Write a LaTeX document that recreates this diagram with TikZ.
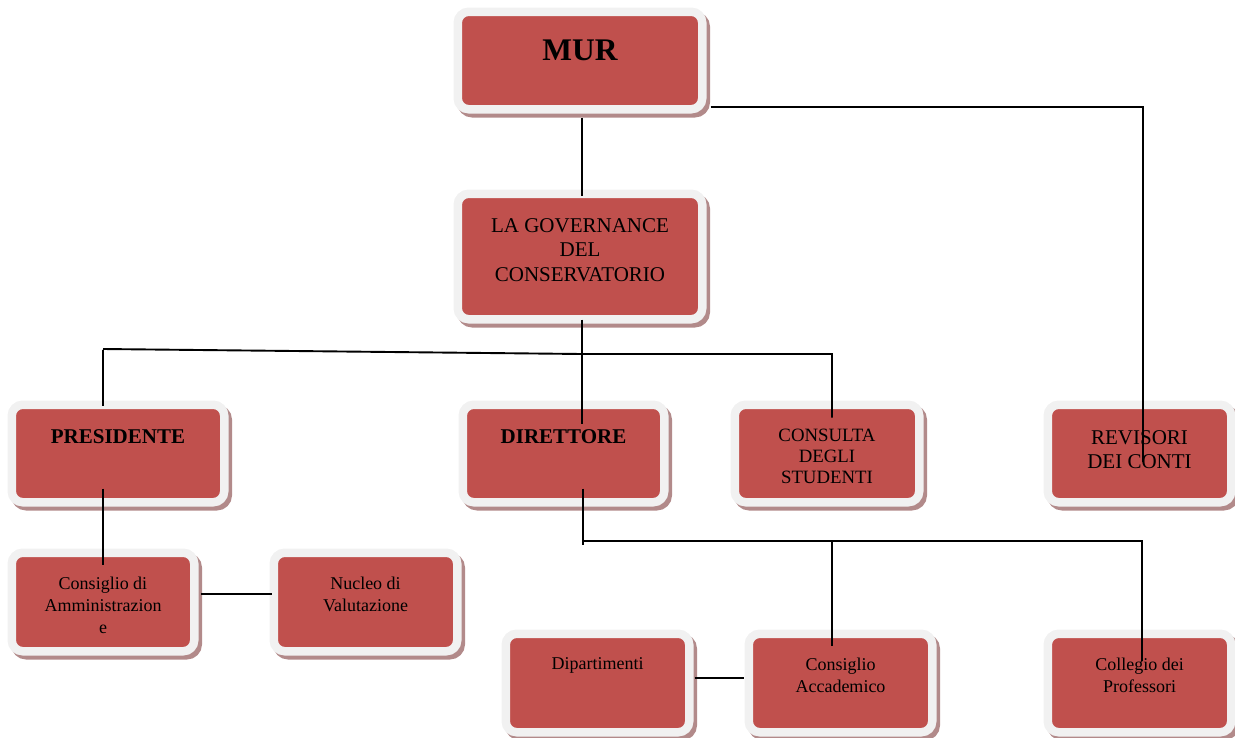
\documentclass[tikz,border=0pt]{standalone}
\usepackage{fontspec}
\setmainfont{Liberation Serif}
\usetikzlibrary{calc}
\definecolor{boxred}{RGB}{192,80,77}
\definecolor{framec}{RGB}{241,241,241}
\definecolor{shadowc}{RGB}{178,138,138}
\tikzset{
  orgbox/.style={rectangle, rounded corners=11pt, fill=boxred, draw=framec, line width=8.5pt, inner sep=0pt,
    preaction={draw=shadowc, fill=shadowc, transform canvas={shift={(3.5pt,-4pt)}}}},
  lbl/.style={align=center, inner sep=0pt, text=black},
  big/.style={font=\fontsize{21}{24.5}\selectfont},
  mid/.style={font=\fontsize{18.8}{21}\selectfont},
  small/.style={font=\fontsize{18}{22}\selectfont},
  conn/.style={draw=black, line width=1.9pt}
}
\begin{document}
\begin{tikzpicture}[x=1pt,y=-1pt]
\useasboundingbox (0,0) rectangle (1235,737);
% boxes
\node[orgbox, minimum width=244.5pt, minimum height=97.5pt] (mur) at (580,60.5) {};
\node[orgbox, minimum width=244.5pt, minimum height=125.5pt] (gov) at (580,256.5) {};
\node[orgbox, minimum width=212.5pt, minimum height=97.5pt] (pres) at (118,453.5) {};
\node[orgbox, minimum width=201.5pt, minimum height=97.5pt] (dir) at (563.5,453.5) {};
\node[orgbox, minimum width=184.5pt, minimum height=97.5pt] (cons) at (827,453.5) {};
\node[orgbox, minimum width=183.5pt, minimum height=97.5pt] (rev) at (1139.5,453.5) {};
\node[orgbox, minimum width=182.5pt, minimum height=98.5pt] (cda) at (103,602) {};
\node[orgbox, minimum width=183.5pt, minimum height=98.5pt] (nuc) at (365.5,602) {};
\node[orgbox, minimum width=183.5pt, minimum height=98.5pt] (dip) at (597.5,683) {};
\node[orgbox, minimum width=183.5pt, minimum height=98.5pt] (cacc) at (840.5,683) {};
\node[orgbox, minimum width=183.5pt, minimum height=98.5pt] (coll) at (1139.5,683) {};
% labels
\node[lbl, font=\bfseries\fontsize{31.5}{34}\selectfont] (murT) at (580,50) {MUR};
\node[lbl, big] (govT) at (580,250) {LA GOVERNANCE\\DEL\\CONSERVATORIO};
\node[lbl, font=\bfseries\fontsize{21}{24}\selectfont] (presT) at (118,437) {PRESIDENTE};
\node[lbl, font=\bfseries\fontsize{21}{24}\selectfont] (dirT) at (563.5,437) {DIRETTORE};
\node[lbl, mid] (consT) at (827,456) {CONSULTA\\DEGLI\\STUDENTI};
\node[lbl, big] (revT) at (1139.5,449.5) {REVISORI\\DEI CONTI};
\node[lbl, small] (cdaT) at (103,605) {Consiglio di\\Amministrazion\\e};
\node[lbl, small] (nucT) at (365.5,594) {Nucleo di\\Valutazione};
\node[lbl, small] (dipT) at (597.5,665) {Dipartimenti};
\node[lbl, small] (caccT) at (840.5,675.5) {Consiglio\\Accademico};
\node[lbl, small] (collT) at (1139.5,675.5) {Collegio dei\\Professori};
% junction coordinates
\coordinate (j1) at (103,349);
\coordinate (j2) at (582,354);
\coordinate (j3) at (832,354);
\coordinate (k1) at (583,541);
\coordinate (k2) at (832,541);
\coordinate (k3) at (1142,541);
\coordinate (m1) at (1143,107);
% connectors
\draw[conn] ($(mur.south)+(2,4)$) -- ($(gov.north)+(2,6)$);
\draw[conn] ($(mur.east)+(4,46.5)$) -- (m1) -- ($(rev.north)+(3.5,61)$);
\draw[conn] ($(gov.south)+(2,-4)$) -- ($(dir.north)+(18.5,23)$);
\draw[conn] (j1) -- (j2) -- (j3) -- ($(cons.north)+(5,17)$);
\draw[conn] ($(j1)+(0,1)$) -- ($(pres.north)+(-15,5)$);
\draw[conn] ($(pres.south)+(-15,-18)$) -- ($(cda.north)+(0,16)$);
\draw[conn] ($(cda.east)+(2.5,-8)$) -- ($(nuc.west)+(2.5,-8)$);
\draw[conn] ($(dir.south)+(19.5,-18)$) -- ($(k1)+(0,4)$);
\draw[conn] (k1) -- (k3) -- ($(coll.north)+(2.5,31)$);
\draw[conn] (k2) -- ($(cacc.north)+(-8.5,16)$);
\draw[conn] ($(dip.east)+(1,-5)$) -- ($(cacc.west)+(-0.5,-5)$);
\end{tikzpicture}
\end{document}
